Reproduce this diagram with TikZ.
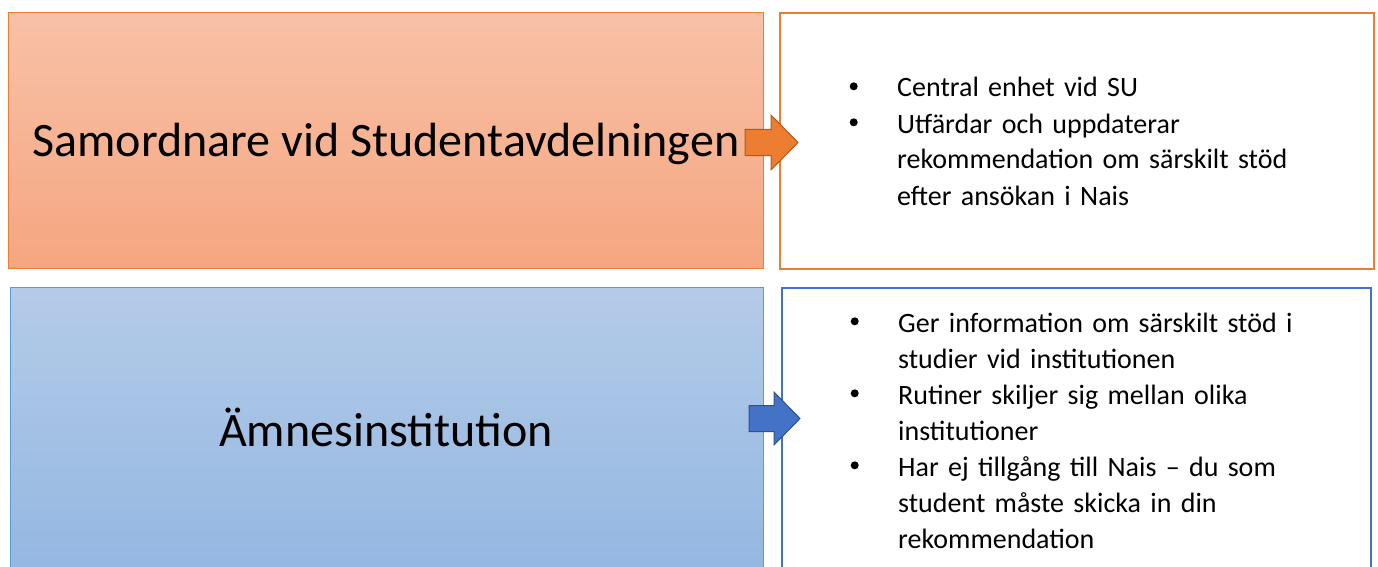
\documentclass[tikz,border=0pt]{standalone}
\usepackage{fontspec}
\setmainfont{Carlito}

\definecolor{orangeline}{HTML}{ED7D31}
\definecolor{orangedark}{HTML}{AE5A21}
\definecolor{samtop}{HTML}{F8C1A7}
\definecolor{sambot}{HTML}{F5A680}
\definecolor{blueline}{HTML}{4472C4}
\definecolor{bluedark}{HTML}{2F528F}
\definecolor{lightblueline}{HTML}{5B9BD5}
\definecolor{amntop}{HTML}{B4CBE8}
\definecolor{amnbot}{HTML}{92B6E1}

% punktlista: liten prick, hängande indrag
\newcommand{\prick}{\makebox[48pt][l]{\hspace{0.5pt}\raisebox{0.5ex}{\tikz\fill (0,0) circle (4pt);}}}
\newcommand{\punkt}[1]{\noindent\hangindent=48pt\hangafter=1\prick#1\par}

\begin{document}
\begin{tikzpicture}[x=1pt,y=-1pt,
  rolebox/.style={draw, line width=1pt, anchor=north west, inner sep=0pt},
  roletext/.style={anchor=base, inner sep=0pt, font=\fontsize{48}{56}\selectfont},
  infobox/.style={draw, line width=2pt, anchor=north west, inner sep=0pt, fill=white},
  infotext/.style={anchor=base west, inner sep=0pt, text width=520pt,
    font=\fontsize{28}{36}\selectfont},
  blockpil/.style={line width=1pt, line join=miter}]

  \useasboundingbox (0,0) rectangle (1378,567);
  \begin{scope}
    \clip (0,0) rectangle (1378,567);

    % Studentavdelningen
    \node[rolebox, draw=orangeline, top color=samtop, bottom color=sambot,
      minimum width=755pt, minimum height=256pt] (samordn) at (8,12) {};
    \node[roletext] (samtext) at (386,157) {Samordnare vid Studentavdelningen};
    \node[infobox, draw=orangeline, minimum width=594pt, minimum height=256pt]
      (suinfo) at (779,12) {};
    \node[infotext] (sutext) at (849,97) {%
      \punkt{Central enhet vid SU}%
      \punkt{Utfärdar och uppdaterar\newline rekommendation om särskilt stöd\newline efter ansökan i Nais}};

    % institutionen
    \node[rolebox, draw=lightblueline, top color=amntop, bottom color=amnbot,
      minimum width=753pt, minimum height=300pt] (amne) at (10,287) {};
    \node[roletext] (amnetext) at (386,446) {Ämnesinstitution};
    \node[infobox, draw=blueline, minimum width=589pt, minimum height=300pt]
      (instinfo) at (781,287) {};
    \node[infotext] (insttext) at (850,332) {%
      \punkt{Ger information om särskilt stöd i\newline studier vid institutionen}%
      \punkt{Rutiner skiljer sig mellan olika\newline institutioner}%
      \punkt{Har ej tillgång till Nais – du som\newline student måste skicka in din\newline rekommendation}};

    % pilar
    \filldraw[blockpil, fill=orangeline, draw=orangedark]
      (745,129.5) -- (771,129.5) -- (771,115) -- (798,142.5) -- (771,170)
      -- (771,155.5) -- (745,155.5) -- cycle;
    \filldraw[blockpil, fill=blueline, draw=bluedark]
      (749,405.5) -- (774,405.5) -- (774,392) -- (800,418.5) -- (774,445)
      -- (774,431.5) -- (749,431.5) -- cycle;
  \end{scope}
\end{tikzpicture}
\end{document}
